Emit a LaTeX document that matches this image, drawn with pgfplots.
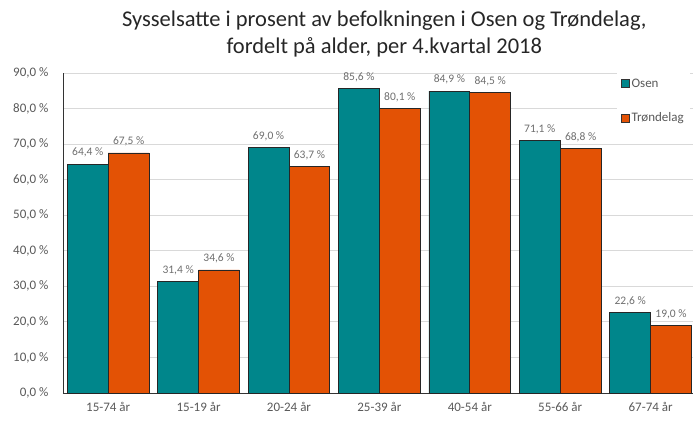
\documentclass[border=0pt]{standalone}
\usepackage{fontspec}
\setmainfont{Carlito}
\usepackage{pgfplots}
\pgfplotsset{compat=1.18}
\definecolor{tealc}{RGB}{0,134,139}
\definecolor{orng}{RGB}{227,82,5}
\definecolor{txt}{RGB}{89,89,89}
\definecolor{lbl}{RGB}{110,110,110}
\definecolor{gridc}{RGB}{217,217,217}
\begin{document}
\begin{tikzpicture}
\useasboundingbox (-63bp,-28bp) rectangle (630bp,393bp);
\begin{axis}[
  scale only axis, width=630bp, height=320bp,
  xmin=-0.5, xmax=6.469, ymin=0, ymax=90,
  enlargelimits=false, clip=false,
  ybar, bar width=0.452,
  axis x line*=bottom, axis y line*=left,
  axis line style={-, draw=black!80, line width=0.8bp},
  ymajorgrids, grid style={gridc, line width=0.8bp},
  ytick={0,10,...,90},
  yticklabel={\pgfmathprintnumber[fixed,fixed zerofill,precision=1,use comma,assume math mode=true]{\tick}~\%},
  xtick={0,...,6},
  xticklabels={15-74 år,15-19 år,20-24 år,25-39 år,40-54 år,55-66 år,67-74 år},
  major tick length=0,
  tick label style={font=\fontsize{13bp}{15bp}\selectfont, text=txt},
  yticklabel style={xshift=-11bp},
  xticklabel style={yshift=-6bp},
  nodes near coords={\pgfmathprintnumber[fixed,fixed zerofill,precision=1,use comma,assume math mode=true]{\pgfplotspointmeta}~\%},
  nodes near coords style={font=\fontsize{11.5bp}{13bp}\selectfont, text=lbl, yshift=3bp},
  legend style={at={(rel axis cs:0.879,1.008)}, anchor=north west, draw=none, fill=white,
    font=\fontsize{13bp}{15bp}\selectfont, text=txt, row sep=20bp, inner xsep=4bp, inner ysep=6bp},
  legend cell align=left,
  legend image code/.code={\draw[#1,draw=black!80,line width=0.6bp] (0bp,-4bp) rectangle (8bp,4bp);},
]
\addplot[fill=tealc, draw=black!85, line width=0.8bp, bar shift=-0.226] coordinates {(0,64.4) (1,31.4) (2,69.0) (3,85.6) (4,84.9) (5,71.1) (6,22.6)};
\addplot[fill=orng, draw=black!85, line width=0.8bp, bar shift=0.226] coordinates {(0,67.5) (1,34.6) (2,63.7) (3,80.1) (4,84.5) (5,68.8) (6,19.0)};
\legend{Osen,Trøndelag}
\node[align=center, font=\fontsize{22.5bp}{27bp}\selectfont, text=black!85] at (rel axis cs:0.51,1.123) {Sysselsatte i prosent av befolkningen i Osen og Trøndelag,\\ fordelt på alder, per 4.kvartal 2018};
\end{axis}
\end{tikzpicture}
\end{document}
